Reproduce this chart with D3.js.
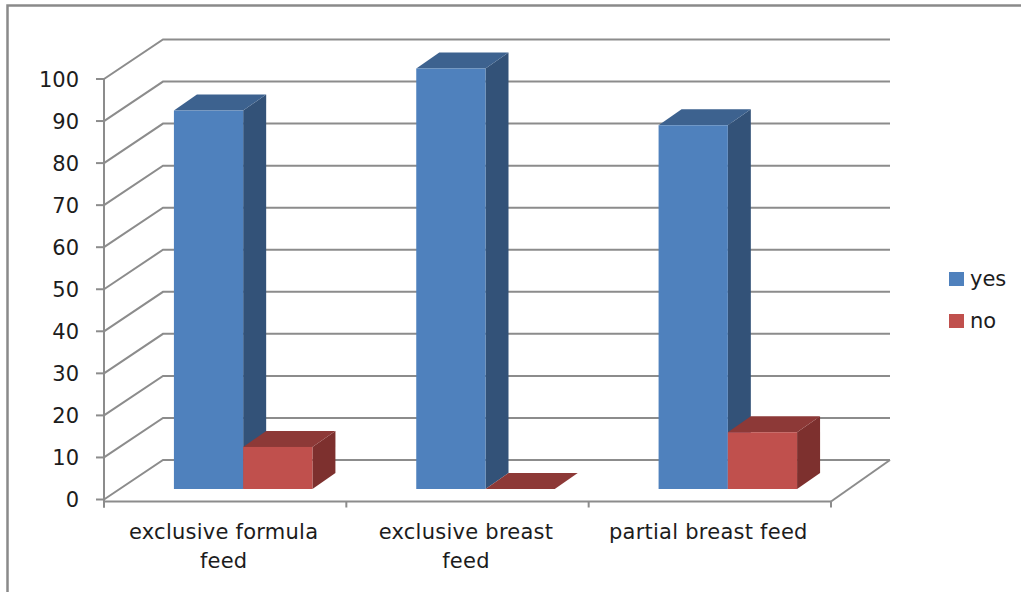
<!DOCTYPE html>
<html>
<head>
<meta charset="utf-8">
<script src="https://cdn.jsdelivr.net/npm/d3@7"></script>
<style>
  html, body { margin: 0; padding: 0; background: #fff; }
  svg { display: block; }
  text { font-family: "DejaVu Sans", sans-serif; font-size: 21px; fill: #1c1c1c; }
  .cat { letter-spacing: 0.25px; }
</style>
</head>
<body>
<svg id="chart" width="1021" height="592"></svg>
<script>
const categories = [["exclusive formula", "feed"], ["exclusive breast", "feed"], ["partial breast feed"]];
const categoryKeys = ["exclusive formula feed", "exclusive breast feed", "partial breast feed"];
const seriesNames = ["yes", "no"];
const yesValues = [90, 100, 86.5];
const noValues = [10, 0, 13.5];
const yTicks = [0, 10, 20, 30, 40, 50, 60, 70, 80, 90, 100];

const faceColors = { yes: "#4F81BD", no: "#C0504D" };
const topColors = { yes: "#3D628F", no: "#8D3937" };
const sideColors = { yes: "#335278", no: "#7D302E" };
const gridColor = "#8C8C8C";

const svg = d3.select("#chart");

// Front plane of the 3D box: value axis on the left, category axis below.
const y = d3.scaleLinear().domain([0, 100]).range([499.5, 79]);
const x = d3.scaleBand().domain(categoryKeys).range([104, 831]);
const barDomain = d3.scaleBand().domain(seriesNames).range([0, 138.5]);
const wallDepth = { dx: 59, dy: -39.5 };
const barDepth = { dx: 23, dy: -16 };
const floorInset = 10.5;             // gap between the front plane and the bars' base
const groupShift = 18;               // bars sit further back, so they shift right on screen

// Outer chart frame, open on the right and bottom.
svg.append("path")
  .attr("d", "M7.5,592V5.5H1021")
  .attr("fill", "none").attr("stroke", "#8A8A8A").attr("stroke-width", 2.5);

// Gridlines run along the back wall and fold forward along the side wall.
const grid = svg.append("g").attr("fill", "none").attr("stroke", gridColor).attr("stroke-width", 2);
grid.selectAll("path").data(yTicks).join("path")
  .attr("d", t => d3.line()([
    [x.range()[0], y(t)],
    [x.range()[0] + wallDepth.dx, y(t) + wallDepth.dy],
    [x.range()[1] + wallDepth.dx, y(t) + wallDepth.dy]
  ]));

// Floor edge on the right and category axis in front.
const floorY = y(0) + 2;
grid.append("path").attr("d", d3.line()([
  [x.range()[1], floorY],
  [x.range()[1] + wallDepth.dx, y(0) + wallDepth.dy]
]));
grid.append("path").attr("d", d3.line()([[x.range()[0], floorY], [x.range()[1], floorY]]));
grid.append("path").attr("d", d3.line()([[x.range()[0], y(100)], [x.range()[0], floorY + 6]]));
grid.selectAll(".ytick").data(yTicks).join("path").attr("class", "ytick")
  .attr("d", t => d3.line()([[x.range()[0] - 8, y(t)], [x.range()[0], y(t)]]));
const catEdges = categoryKeys.map(c => x(c)).concat(x.range()[1]);
grid.selectAll(".xtick").data(catEdges).join("path").attr("class", "xtick")
  .attr("d", e => d3.line()([[e, floorY], [e, floorY + 6]]));

// Value axis labels.
svg.append("g").selectAll("text").data(yTicks).join("text")
  .attr("x", 79).attr("y", t => y(t) + 7.5)
  .attr("text-anchor", "end").text(d => d);

// One cuboid: front face, top and right side.
function cuboid(layer, x0, x1, top, base, key) {
  const d = barDepth;
  layer.append("path").attr("fill", sideColors[key])
    .attr("d", d3.line()([[x1, top], [x1 + d.dx, top + d.dy], [x1 + d.dx, base + d.dy], [x1, base]]) + "Z");
  layer.append("path").attr("fill", topColors[key])
    .attr("d", d3.line()([[x0, top], [x0 + d.dx, top + d.dy], [x1 + d.dx, top + d.dy], [x1, top]]) + "Z");
  layer.append("rect").attr("fill", faceColors[key])
    .attr("x", x0).attr("y", top).attr("width", x1 - x0).attr("height", base - top);
}

const barBase = y(0) - floorInset;
const unit = y(0) - y(1);
const bars = svg.append("g");
categoryKeys.forEach((c, i) => {
  const groupStart = x(c) + (x.bandwidth() - barDomain.range()[1]) / 2 + groupShift;
  [["yes", yesValues[i]], ["no", noValues[i]]].forEach(([key, v]) => {
    const x0 = groupStart + barDomain(key);
    cuboid(bars, x0, x0 + barDomain.bandwidth(), barBase - v * unit, barBase, key);
  });
});

// Category labels, wrapped as they appear under the axis.
const labels = svg.append("g");
categoryKeys.forEach((c, i) => {
  const t = labels.append("text").attr("text-anchor", "middle").attr("class", "cat");
  categories[i].forEach((line, j) => {
    t.append("tspan")
      .attr("x", x(c) + x.bandwidth() / 2 - 1.5)
      .attr("y", 539 + j * 29)
      .text(line);
  });
});

// Legend.
const legendRows = [{ key: "yes", top: 272, base: 286 }, { key: "no", top: 314, base: 328 }];
const legend = svg.append("g");
legend.selectAll("rect").data(legendRows).join("rect")
  .attr("x", 949).attr("y", d => d.top).attr("width", 15).attr("height", 14)
  .attr("fill", d => faceColors[d.key]);
legend.selectAll("text").data(legendRows).join("text")
  .attr("x", 970).attr("y", d => d.base).text(d => d.key);
</script>
</body>
</html>
